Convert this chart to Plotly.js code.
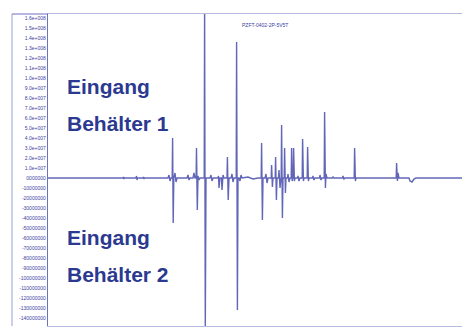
<!DOCTYPE html>
<html><head><meta charset="utf-8">
<script src="https://cdn.plot.ly/plotly-3.0.1.min.js"></script>
<style>html,body{margin:0;padding:0;background:#fff}#c{width:462px;height:329px}</style>
</head><body><div id="c"></div>
<script>
// time axis (arbitrary sample units) and signal amplitude (millions)
const t = [0,40,75,75.5,76,76.5,88,88.5,89,89.5,95,95.5,96,96.5,120,121,122,123,124.2,124.6,125.2,125.8,127,128,129,139,140,141,142,145,146,147,148.1,148.5,149.3,150,151,152,156.2,156.6,157.3,158,162,163,164,165,170,170.5,171,172,173.5,174,175,176,179,179.4,180.2,181,183,184,185,186,188.2,188.6,189.4,190,191,192,193,194,200,205,210,213.2,213.6,214.4,215,217,218,219,220,223.2,223.6,224.4,225,227.2,227.6,228.4,229,230.5,231,232,233,233.2,233.6,234.4,235,236.2,236.6,237.4,238,239.5,240,241,242,243.2,243.6,244.2,244.8,245.2,245.6,246.4,247,249.5,250,251,252,254.2,254.6,255.4,256,259.2,259.6,260.4,261,264.5,265,266,267,271.5,272,273,274,276.2,276.6,277.4,278,279,284.5,285,286,294.5,295,296,297,306.2,306.6,307.4,308,348.2,348.6,349.4,350,351,361,362,364,366,368,414];
const v = [0,0,0,1,-1,0,0,2,-2,0,0,1,-1,0,0,3,-3,0,0,40,-45,0,5,-4,0,0,3,-2,0,0,5,0,0,30,-32,2,-2,0,0,170,-150,0,0,3,-3,0,0,2,-10,0,0,-12,3,0,0,21,-22,0,0,4,-4,0,0,136,-132,0,0,-3,3,0,1,-1,0,0,35,-42,0,0,4,-5,0,0,13,-9,0,0,21,-22,0,0,8,-10,0,0,53,-40,0,0,30,-15,0,0,4,-4,0,0,30,-3,0,0,30,-3,0,0,2,-3,0,0,39,-3,0,0,31,-3,0,0,2,-2,0,0,3,-2,0,0,66,-10,4,0,0,1,0,0,2,-1,0,0,30,-3,0,0,15,-3,5,0,0,-3,-4,-1,0,0];
const tickVals = [160,150,140,130,120,110,100,90,80,70,60,50,40,30,20,10,0,-10,-20,-30,-40,-50,-60,-70,-80,-90,-100,-110,-120,-130,-140];
const tickText = ["1.6e+008","1.5e+008","1.4e+008","1.3e+008","1.2e+008","1.1e+008","1.0e+008","9.0e+007","8.0e+007","7.0e+007","6.0e+007","5.0e+007","4.0e+007","3.0e+007","2.0e+007","1.0e+007","0000000","-10000000","-20000000","-30000000","-40000000","-50000000","-60000000","-70000000","-80000000","-90000000","-100000000","-110000000","-120000000","-130000000","-140000000"];
const labels = ["Eingang","Behälter 1","Eingang","Behälter 2"];
const chartTitle = "PZFT-0402-2P-5V5T";

const labelFont = {family:"Liberation Sans, Arial, sans-serif", size:21, color:"#2b3990", weight:700};
const ann = (txt, y) => ({text:"<b>"+txt+"</b>", xref:"paper", yref:"paper", x:(65-48)/414, y:y, xanchor:"left", yanchor:"middle", showarrow:false, font:labelFont});
const py = p => (326-p)/312;

Plotly.newPlot("c", [{
  x:t, y:v, type:"scatter", mode:"lines",
  line:{color:"rgba(70,75,170,0.85)", width:1.4},
  hoverinfo:"skip"
}], {
  width:462, height:329,
  margin:{l:48, r:0, t:14, b:3},
  paper_bgcolor:"#fff", plot_bgcolor:"#fff",
  showlegend:false,
  xaxis:{range:[0,414], showticklabels:false, showgrid:false, zeroline:false, ticks:"",
         showline:true, mirror:true, linecolor:"#b8bbe0", linewidth:1},
  yaxis:{range:[-148,164], tickvals:tickVals, ticktext:tickText, showgrid:false, zeroline:false, ticks:"",
         showline:true, linecolor:"#6d71bd", linewidth:1.2,
         tickfont:{family:"Liberation Sans, Arial, sans-serif", size:5, color:"#3b40a0"}},
  shapes:[
    {type:"line", xref:"paper", yref:"paper", x0:(12-48)/414, x1:(12-48)/414, y0:0, y1:1, line:{color:"#9a9dd2", width:1}},
    {type:"line", xref:"paper", yref:"paper", x0:(12-48)/414, x1:0, y0:1, y1:1, line:{color:"#6d71bd", width:1.2}}
  ],
  annotations:[
    ann(labels[0], py(87)),
    ann(labels[1], py(124)),
    ann(labels[2], py(237)),
    ann(labels[3], py(274)),
    {text:chartTitle, xref:"paper", yref:"paper", x:(265-48)/414, y:py(20), showarrow:false,
     font:{family:"Liberation Sans, Arial, sans-serif", size:5, color:"#3b40a0"}}
  ]
}, {staticPlot:true, displayModeBar:false});
</script></body></html>
